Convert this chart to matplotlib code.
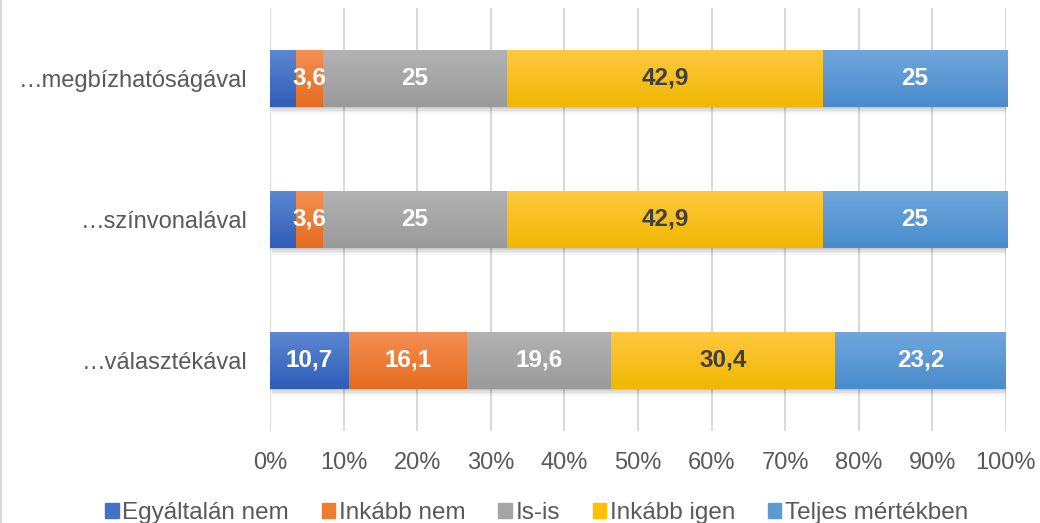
import matplotlib.pyplot as plt
import matplotlib.colors as mcolors
import matplotlib.patches as mpatches
import numpy as np

plt.rcParams['font.family'] = ['Liberation Sans', 'DejaVu Sans']

categories = ["…választékával", "…színvonalával", "…megbízhatóságával"]
series_names = ["Egyáltalán nem", "Inkább nem", "Is-is", "Inkább igen", "Teljes mértékben"]
egyaltalan_nem = [10.7, 3.6, 3.6]
inkabb_nem = [16.1, 3.6, 3.6]
is_is = [19.6, 25, 25]
inkabb_igen = [30.4, 42.9, 42.9]
teljes = [23.2, 25, 25]
values = [egyaltalan_nem, inkabb_nem, is_is, inkabb_igen, teljes]

# (top, bottom) gradient colours per series
grads = [("#5D87D2", "#2F5DB8"),
         ("#F48F52", "#E46C1E"),
         ("#B2B2B2", "#9A9A9A"),
         ("#FFC840", "#F0B800"),
         ("#6FA6DC", "#4A8CCC")]
label_colors = ["white", "white", "white", "#404040", "white"]
legend_colors = ["#4472C4", "#ED7D31", "#A5A5A5", "#FFC000", "#5B9BD5"]

fig = plt.figure(figsize=(10.4, 5.23), dpi=100)
ax = fig.add_axes([0.2596, 0.176, 0.7077, 0.809])

y = np.arange(len(categories))
h = 0.40
left = np.zeros(len(categories))
for i, vals in enumerate(values):
    vals = np.array(vals, dtype=float)
    # soft drop shadow
    for k, a in enumerate([0.06, 0.05, 0.05, 0.04, 0.03]):
        off = 0.01 * (k + 1)
        ax.barh(y - off, vals, height=h, left=left + 0.06 * (k + 1), color="black",
                alpha=a, linewidth=0, zorder=1)
    bars = ax.barh(y, vals, height=h, left=left, color=legend_colors[i],
                   linewidth=0, zorder=2, label=series_names[i])
    cmap = mcolors.LinearSegmentedColormap.from_list("g%d" % i, [grads[i][1], grads[i][0]])
    for b in bars:
        x0, y0 = b.get_x(), b.get_y()
        im = ax.imshow(np.linspace(0, 1, 64).reshape(-1, 1), cmap=cmap, aspect="auto",
                       origin="lower", extent=[x0, x0 + b.get_width(), y0, y0 + b.get_height()],
                       zorder=3)
        im.set_clip_path(b)
    for j, v in enumerate(vals):
        if i == 0 and v < 5:
            continue
        ax.text(left[j] + v / 2, y[j], ("%g" % v).replace(".", ","), ha="center", va="center",
                color=label_colors[i], fontsize=17.5, fontweight="bold", zorder=4)
    left += vals

ax.set_xlim(0, 100)
ax.set_ylim(-0.5, 2.5)
ax.set_xticks(np.arange(0, 101, 10))
ax.set_xticklabels(["%d%%" % t for t in range(0, 101, 10)])
ax.set_yticks(y)
ax.set_yticklabels(categories)
ax.tick_params(axis="x", length=0, pad=15, labelsize=17, labelcolor="#595959")
ax.tick_params(axis="y", length=0, pad=16, labelsize=17, labelcolor="#595959")
for s in ax.spines.values():
    s.set_visible(False)
ax.grid(axis="x", color="#D9D9D9", linewidth=1.5, zorder=0)
ax.set_axisbelow(True)

handles = [mpatches.Patch(color=c, label=n) for c, n in zip(legend_colors, series_names)]
leg = fig.legend(handles=handles, loc="lower center", bbox_to_anchor=(0.516, -0.044), ncol=5,
                 frameon=False, fontsize=17.5, handlelength=0.55, handleheight=0.55,
                 handletextpad=0.15, columnspacing=1.35)
for t in leg.get_texts():
    t.set_color("#595959")

fig.add_artist(plt.Line2D([0.001, 0.001], [0, 1], color="#D9D9D9", linewidth=1.5,
                          transform=fig.transFigure))

fig.savefig("out.png", dpi=100)
